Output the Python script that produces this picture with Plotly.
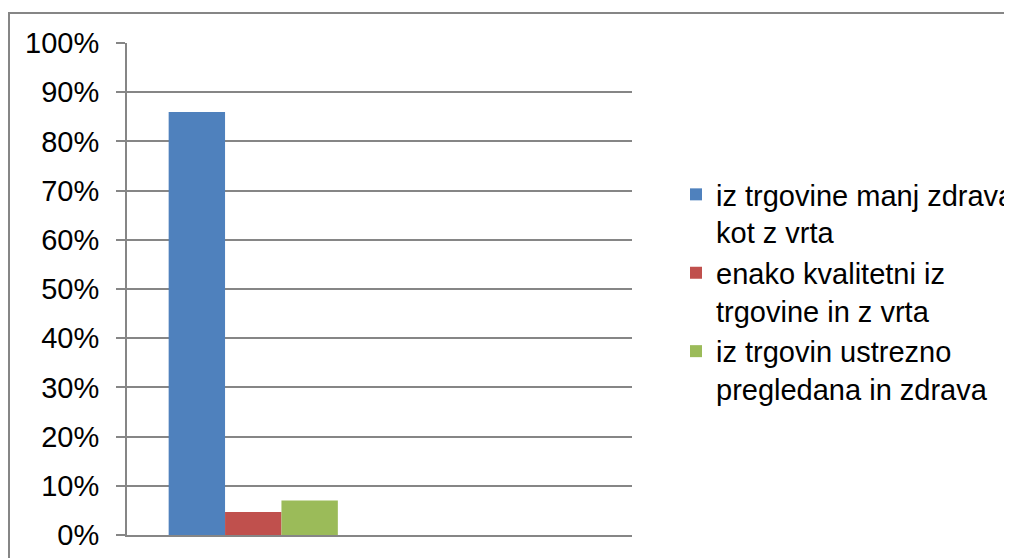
import plotly.graph_objects as go

series_names = [
    "iz trgovine manj zdrava<br>kot z vrta",
    "enako kvalitetni iz<br>trgovine in z vrta",
    "iz trgovin ustrezno<br>pregledana in zdrava",
]
series_values = [0.86, 0.047, 0.07]
series_colors = ["#4F81BD", "#C0504D", "#9BBB59"]
categories = [0]

fig = go.Figure()
for name, val, col in zip(series_names, series_values, series_colors):
    fig.add_trace(go.Bar(x=categories, y=[val], name=name, marker=dict(color=col, line=dict(width=0))))

# page body has an 8px margin; figure sized to fit the viewport
OFF = 8
W, H = 1012 - OFF, 558 - OFF
L, T = 127 - OFF, 43 - OFF
pw, ph = 505, 492
R, B = W - L - pw, H - T - ph

def px_x(s):
    return (s - OFF - L) / pw

def px_y(s):
    return 1 - (s - OFF - T) / ph

fig.update_layout(
    width=W, height=H,
    margin=dict(l=L, r=R, t=T, b=B, pad=0, autoexpand=False),
    paper_bgcolor="white", plot_bgcolor="white",
    barmode="group", bargap=0.33, bargroupgap=0,
    font=dict(family="Liberation Sans, Arial", color="black", size=29),
    showlegend=True,
    legend=dict(x=px_x(676), y=px_y(169), xanchor="left", yanchor="top",
                valign="top", font=dict(size=29),
                bgcolor="rgba(0,0,0,0)"),
    xaxis=dict(range=[-0.5, 1.5], showticklabels=False, ticks="", showgrid=False,
               showline=True, linecolor="#868686", linewidth=2, zeroline=False,
               automargin=False),
    yaxis=dict(range=[0, 1], dtick=0.1, tickformat=".0%", showgrid=True,
               gridcolor="#868686", gridwidth=1.5, showline=True, linecolor="#868686",
               linewidth=2, ticks="outside", ticklen=9, tickcolor="#868686", tickwidth=1.5,
               zeroline=False, tickfont=dict(size=29), ticklabelstandoff=11,
               automargin=False),
)

fig.add_shape(type="rect", xref="paper", yref="paper",
              x0=px_x(9), x1=px_x(1100), y0=px_y(700), y1=px_y(13),
              line=dict(color="#868686", width=2), fillcolor="rgba(0,0,0,0)", layer="below")

fig.write_html("out.html")
